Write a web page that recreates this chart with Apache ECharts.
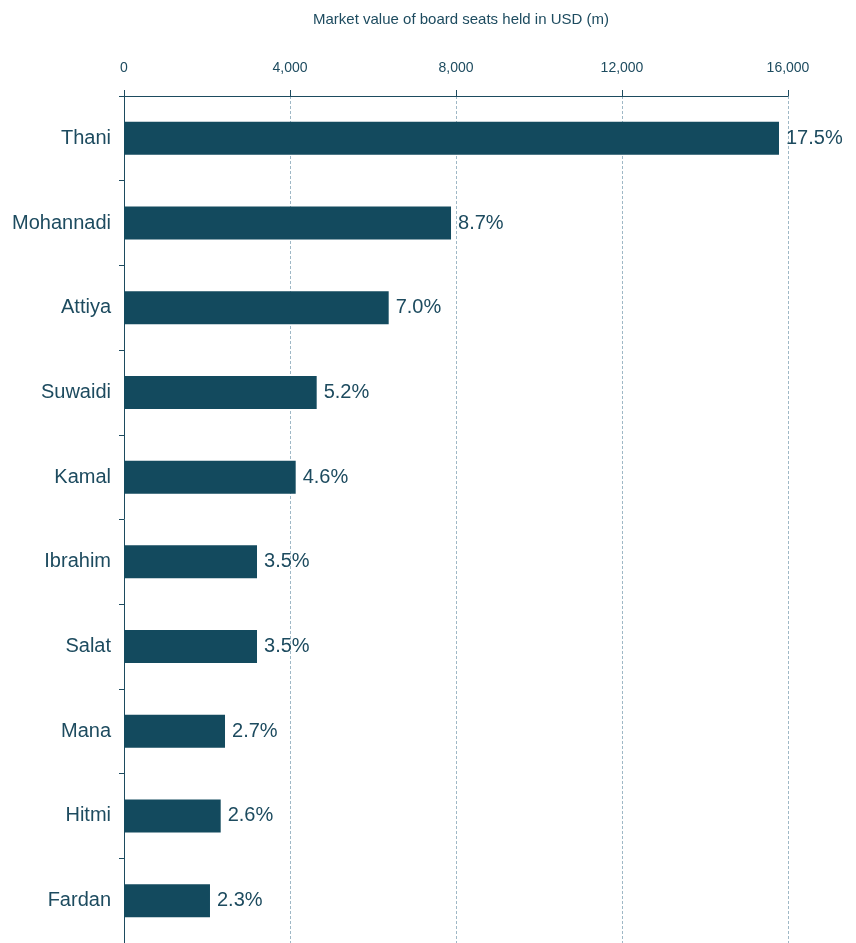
<!DOCTYPE html>
<html>
<head>
<meta charset="utf-8">
<script src="https://cdn.jsdelivr.net/npm/echarts@6/dist/echarts.min.js"></script>
<style>
  html, body { margin: 0; padding: 0; background: #ffffff; }
  #chart { width: 856px; height: 943px; }
</style>
</head>
<body>
<div id="chart"></div>
<script>
// Board members by family name, top to bottom
const families = ['Thani', 'Mohannadi', 'Attiya', 'Suwaidi', 'Kamal', 'Ibrahim', 'Salat', 'Mana', 'Hitmi', 'Fardan'];
// Market value of board seats held, USD millions
const seatValues = [15783, 7880, 6378, 4643, 4137, 3205, 3205, 2434, 2330, 2072];
// Share of total, shown next to each bar
const shareLabels = ['17.5%', '8.7%', '7.0%', '5.2%', '4.6%', '3.5%', '3.5%', '2.7%', '2.6%', '2.3%'];
// Value axis ticks
const valueTicks = [0, 4000, 8000, 12000, 16000];

const ink = '#1d4b5f';
const barColor = '#134a5e';
const gridColor = '#9fb8c6';

const chart = echarts.init(document.getElementById('chart'), null, { renderer: 'canvas' });

chart.setOption({
  animation: false,
  backgroundColor: '#ffffff',
  title: {
    text: 'Market value of board seats held in USD (m)',
    left: 456,
    textAlign: 'center',
    top: 7,
    textStyle: {
      color: ink,
      fontSize: 15,
      fontWeight: 'normal',
      fontFamily: 'Liberation Sans, Arial, sans-serif'
    }
  },
  grid: { left: 124, top: 96, width: 664, height: 849, containLabel: false },
  xAxis: {
    type: 'value',
    position: 'top',
    min: valueTicks[0],
    max: valueTicks[valueTicks.length - 1],
    interval: valueTicks[1] - valueTicks[0],
    axisLine: { show: true, lineStyle: { color: ink, width: 1 } },
    axisTick: { show: true, length: 6, lineStyle: { color: ink } },
    axisLabel: {
      color: ink,
      fontSize: 14,
      margin: 21,
      fontFamily: 'Liberation Sans Narrow, Liberation Sans, Arial, sans-serif',
      formatter: v => v.toLocaleString('en-US')
    },
    splitLine: { show: true, lineStyle: { color: gridColor, type: [3, 2], width: 1 } }
  },
  yAxis: {
    type: 'category',
    inverse: true,
    data: families,
    axisLine: { show: true, lineStyle: { color: ink, width: 1 } },
    axisTick: { show: true, length: 5, lineStyle: { color: ink } },
    axisLabel: {
      color: ink,
      fontSize: 20,
      margin: 13,
      fontFamily: 'Liberation Sans, Arial, sans-serif'
    },
    splitLine: { show: false }
  },
  series: [{
    type: 'bar',
    data: seatValues,
    barWidth: 33,
    itemStyle: { color: barColor },
    label: {
      show: true,
      position: 'right',
      distance: 7,
      color: ink,
      fontSize: 20,
      fontFamily: 'Liberation Sans, Arial, sans-serif',
      formatter: p => shareLabels[p.dataIndex]
    }
  }]
});
</script>
</body>
</html>
